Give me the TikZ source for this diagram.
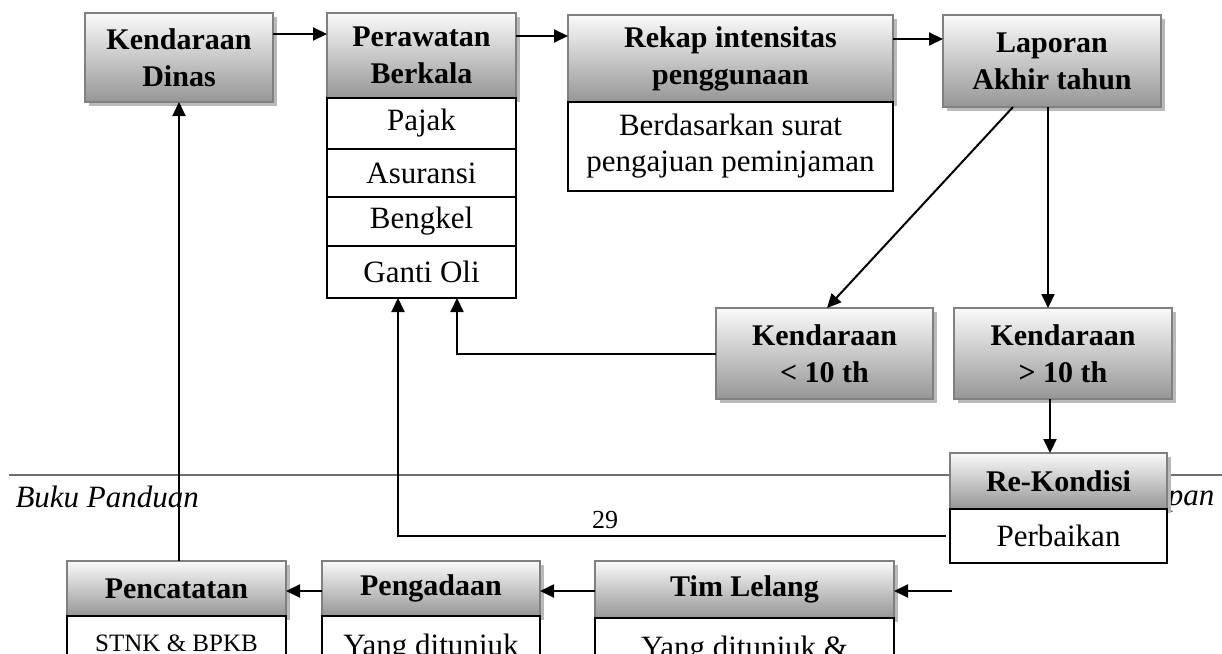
\documentclass[tikz,border=0pt]{standalone}
\usepackage{fontspec}
\setmainfont{Liberation Serif}
\usetikzlibrary{arrows.meta, positioning, shadows}

\definecolor{HeadLine}{RGB}{128,128,128}
\definecolor{HeadTop}{RGB}{250,250,250}
\definecolor{HeadBottom}{RGB}{150,150,150}
\definecolor{FootGray}{RGB}{110,110,110}

\tikzset{
  hdr/.style={draw=HeadLine, line width=2.5pt, top color=HeadTop, bottom color=HeadBottom,
    align=center, inner sep=0pt, outer sep=0pt, anchor=north west,
    font=\bfseries\fontsize{30}{37}\selectfont,
    drop shadow={shadow xshift=4pt, shadow yshift=-4pt, fill=gray!55, opacity=1}},
  sub/.style={draw=black, line width=2pt, fill=white, align=center,
    inner sep=0pt, outer sep=0pt, font=\fontsize{31}{36}\selectfont},
  conn/.style={line width=2pt, -{Triangle[length=14pt,width=13pt]}},
  foot/.style={font=\itshape\fontsize{31}{31}\selectfont},
}

\begin{document}
\begin{tikzpicture}[x=1pt, y=-1pt]
\useasboundingbox (0,0) rectangle (1222,653);
\clip (0,0) rectangle (1222,653);
% Page footer
\draw[FootGray, line width=1.2pt] (9,475) -- (1222,475);
\node[foot, anchor=base west] (buku) at (12,507) {Buku Panduan};
\node[foot, anchor=base east] (ujung) at (1218,505) {apan};
\node[anchor=base, font=\fontsize{26}{26}\selectfont] (hal) at (605,528) {29};
% Top row
\node[hdr, minimum width=188pt, minimum height=89pt] (kd) at (85,13) {Kendaraan\\Dinas};
\node[hdr, minimum width=189pt, minimum height=85pt] (pb) at (327,13) {Perawatan\\Berkala};
\node[sub, minimum width=189pt, minimum height=51pt, below=0pt of pb] (pajak) {Pajak};
\node[sub, minimum width=189pt, minimum height=48pt, below=0pt of pajak] (asuransi) {Asuransi};
\node[sub, minimum width=189pt, minimum height=49pt, below=0pt of asuransi] (bengkel) {Bengkel};
\node[sub, minimum width=189pt, minimum height=52pt, below=0pt of bengkel] (ganti) {Ganti Oli};
\node[hdr, minimum width=325pt, minimum height=87pt] (rekap) at (568,15) {Rekap intensitas\\penggunaan};
\node[sub, minimum width=325pt, minimum height=89pt, below=0pt of rekap] (dasar) {Berdasarkan surat\\pengajuan peminjaman};
\node[hdr, minimum width=218pt, minimum height=92pt] (lapor) at (943,15) {Laporan\\Akhir tahun};
% Age split
\node[hdr, minimum width=217pt, minimum height=91pt] (kurang) at (716,308) {Kendaraan\\< 10 th};
\node[hdr, minimum width=218pt, minimum height=91pt] (lebih) at (954,308) {Kendaraan\\> 10 th};
\node[hdr, minimum width=217pt, minimum height=56pt] (rekon) at (950,453) {Re-Kondisi};
\node[sub, minimum width=217pt, minimum height=54pt, below=0pt of rekon] (perbaikan) {Perbaikan};
% Bottom row
\node[hdr, minimum width=299pt, minimum height=57pt] (lelang) at (595,561) {Tim Lelang};
\node[sub, minimum width=299pt, minimum height=64pt, below=0pt of lelang] (tunjuk2) {Yang ditunjuk \&};
\node[hdr, minimum width=218pt, minimum height=55pt] (adaan) at (322,561) {Pengadaan};
\node[sub, minimum width=218pt, minimum height=64pt, below=0pt of adaan] (tunjuk) {Yang ditunjuk};
\node[hdr, minimum width=219pt, minimum height=55pt] (catat) at (67,561) {Pencatatan};
\node[sub, minimum width=219pt, minimum height=54pt, below=0pt of catat, font=\fontsize{25}{30}\selectfont] (stnk) {STNK \& BPKB};
% Connectors
\draw[conn] (kd.east |- 0,34) -- (pb.west |- 0,34);
\draw[conn] (pb.east |- 0,36) -- (rekap.west |- 0,36);
\draw[conn] (rekap.east |- 0,39) -- (lapor.west |- 0,39);
\draw[conn] (lapor.south -| 1013,0) -- (kurang.north -| 827,0);
\draw[conn] (lapor.south -| 1048,0) -- (lebih.north -| 1048,0);
\draw[conn] (lebih.south -| 1050,0) -- (rekon.north -| 1050,0);
\draw[conn] (kurang.west) -| (ganti.south -| 457,0);
\draw[conn] ([xshift=-4pt]perbaikan.west) -| (ganti.south -| 398,0);
\draw[conn] (catat.north -| kd.south) -- (kd.south);
\draw[conn] (adaan.west |- 0,591) -- (catat.east |- 0,591);
\draw[conn] (lelang.west |- 0,591) -- (adaan.east |- 0,591);
\coordinate (masuk) at (952,591);
\draw[conn] (masuk) -- (lelang.east |- masuk);
\end{tikzpicture}
\end{document}
